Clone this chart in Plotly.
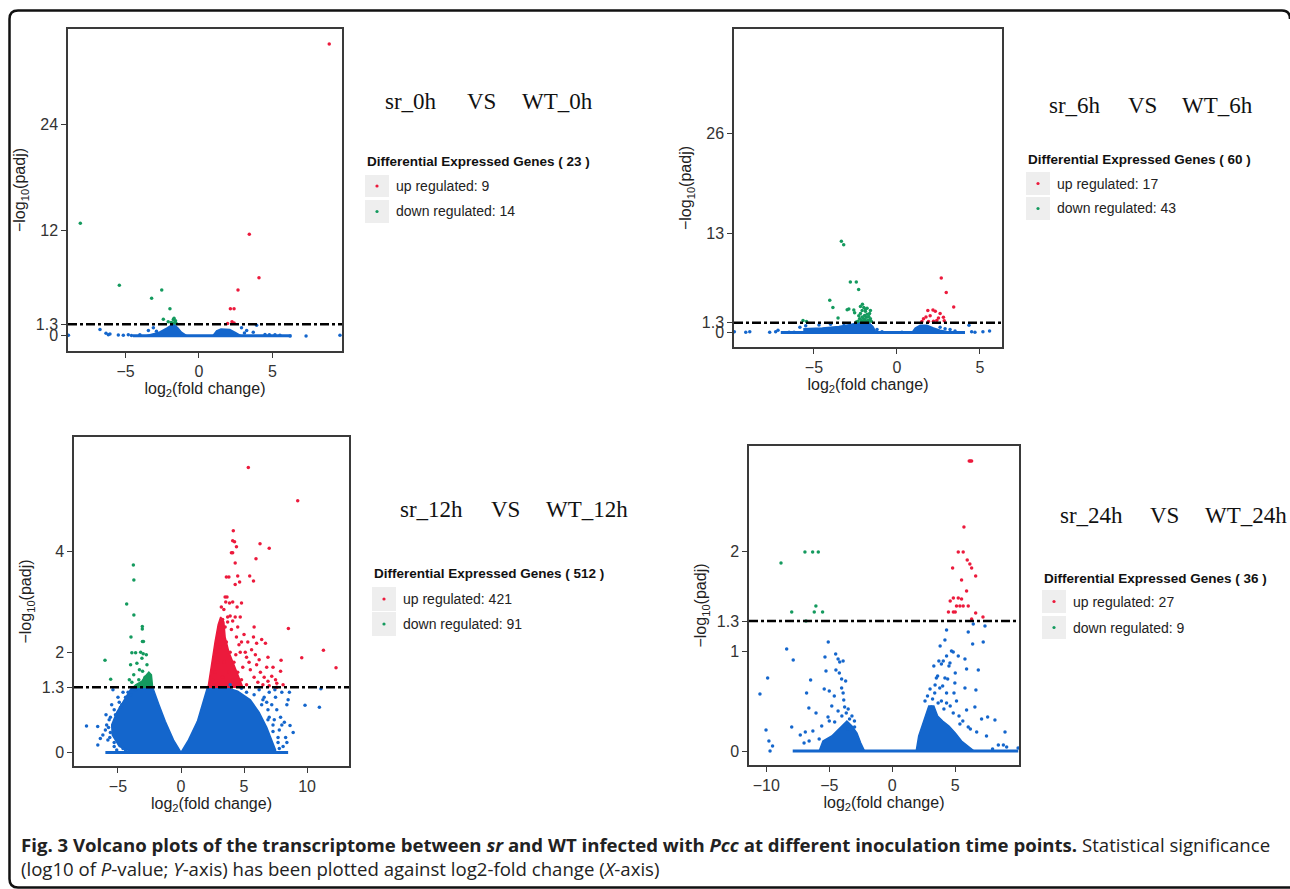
import plotly.graph_objects as go

W, H = 1290, 889
BLUE = "#1466CC"
RED = "#EC1A3C"
GREEN = "#149A5E"
FONT = "Liberation Sans"

# ---------------- data: sr_0h VS WT_0h ----------------
h0_up_x = [8.88, 3.43, 4.09, 2.66, 2.14, 2.39, 2.39, 1.95, 2.25]
h0_up_y = [33.2, 11.55, 6.6, 5.2, 3.08, 3.08, 1.45, 1.38, 1.6]
h0_down_x = [-8.09, -5.43, -2.54, -3.23, -1.98, -2.43, -2.1, -1.9, -1.75, -1.6, -1.8, -1.65, -1.55, -1.7]
h0_down_y = [12.8, 5.74, 5.2, 4.26, 3.08, 1.86, 1.6, 1.5, 1.85, 1.7, 1.45, 1.5, 1.4, 2.0]
h0_ns_x = [-8.9, -6.75, -6.34, -6.18, -6.07, -5.5, -5.16, -4.82, -4.6, -3.45, -3.11, -2.9, 3.25, 3.7,
           3.93, 5.18, 5.52, 6.21, 7.3, 9.61, -4.03, 2.9, 3.1, 4.5, 4.8]
h0_ns_y = [0.05, 0.72, 0.27, 0.1, 0.2, 0.08, 0.05, 0.1, 0.02, 0.6, 0.9, 0.5, 0.6, 0.4,
           1.2, 0.1, 0.05, -0.03, -0.03, 0.05, 0.1, 0.9, 0.3, 0.15, 0.1]
h0_dense_left_x = [-3.6, -2.7, -2.2, -1.75, -1.45, -1.2, -0.85, -3.6]
h0_dense_left_y = [0, 0.4, 0.85, 1.35, 0.9, 0.4, 0, 0]
h0_dense_right_x = [0.95, 1.2, 1.5, 2.1, 2.5, 2.85, 0.95]
h0_dense_right_y = [0, 0.55, 0.75, 0.7, 0.35, 0, 0]
h0_base_x = [-4.5, 6.3]

# ---------------- data: sr_6h VS WT_6h ----------------
h6_up_x = [2.67, 2.97, 3.42, 1.86, 2.17, 2.31, 2.6, 2.8, 2.5, 2.0, 1.6, 1.75, 1.5, 2.4, 2.2, 2.85, 1.9]
h6_up_y = [7.15, 5.23, 3.35, 2.9, 2.95, 2.8, 2.5, 2.0, 1.9, 2.2, 1.8, 2.05, 1.45, 1.6, 1.5, 1.55, 1.45]
h6_down_x = [-3.35, -3.21, -2.81, -2.45, -2.31, -4.05, -3.86, -2.08, -3.0, -2.9, -2.6, -2.55, -3.55, -5.66,
             -5.45, -2.3, -2.2, -2.1, -2.0, -1.9, -1.8, -1.7, -1.6, -1.55, -2.25, -2.15, -2.05, -1.95,
             -1.85, -1.75, -1.65, -1.95, -2.1, -1.85, -2.35, -2.05, -1.7, -2.0, -1.9, -1.8, -2.2, -1.6, -2.45]
h6_down_y = [11.95, 11.5, 6.62, 6.62, 5.63, 4.23, 3.27, 3.7, 3.0, 3.1, 2.95, 2.6, 1.91, 1.6,
             1.45, 2.2, 2.5, 2.9, 3.3, 2.8, 2.4, 2.1, 1.8, 1.5, 1.8, 1.6, 1.9, 1.7,
             1.5, 1.65, 2.5, 2.25, 2.05, 2.0, 1.5, 1.45, 1.45, 1.55, 3.1, 3.2, 3.4, 2.9, 1.4]
h6_ns_x = [-9.8, -9.11, -8.87, -7.67, -7.31, -7.17, -6.5, -5.85, -5.5, -4.7, -4.0, -3.2, 4.34, 4.5,
           4.7, 5.18, 5.58, 3.2, 3.5, 2.6, 2.9, -1.2, -0.9, 0.3, -6.2]
h6_ns_y = [0.1, 0.05, 0.1, 0.05, 0.1, 0.3, 0.05, 0.7, 0.9, 1.0, 1.1, 1.2, 0.96, 0.1,
           0.05, 0.1, 0.2, 0.4, 0.2, 0.7, 0.5, 0.4, 0.1, 0.05, 0.05]
h6_dense_left_x = [-5.6, -5.6, -4.5, -3.5, -2.8, -2.3, -1.7, -1.45, -1.3, -1.15, -5.6]
h6_dense_left_y = [0, 0.5, 0.6, 0.8, 1.05, 1.3, 1.3, 0.8, 0.2, 0, 0]
h6_dense_right_x = [0.9, 1.1, 1.4, 1.8, 2.2, 2.6, 3.0, 3.5, 0.9]
h6_dense_right_y = [0, 0.6, 0.95, 0.95, 0.6, 0.3, 0.15, 0, 0]
h6_base_x = [-7.0, 4.1]

# ---------------- data: sr_12h VS WT_12h ----------------
h12_up_x = [5.34, 9.26, 4.15, 4.1, 4.25, 4.4, 6.27, 7.0, 4.0, 4.1, 5.95, 4.3, 3.6, 3.8, 4.5, 5.45, 5.75,
            4.3, 4.65, 3.65, 3.85, 4.45, 4.1, 4.8, 8.52, 11.3, 9.58, 12.3, 5.8, 5.75, 6.0, 6.7, 6.4,
            7.94, 7.9, 7.5, 7.2, 7.6, 6.9, 6.6, 6.3, 6.0, 5.8, 5.5, 5.2, 5.6, 6.2, 4.8, 5.0, 4.5, 4.3,
            4.1, 4.4, 3.9, 3.7, 6.9, 7.3, 6.5, 7.0, 8.1, 4.9, 5.1, 4.7, 3.4, 3.2, 3.5,
            2.5, 2.7, 2.9, 3.1, 3.3, 3.5, 3.7, 3.0, 2.8, 3.6, 3.9, 4.2, 4.5, 4.8, 5.2, 3.4, 3.8, 4.1,
            3.3, 2.6, 4.6, 4.0, 3.55, 3.3, 4.7, 5.3, 5.9, 6.1, 6.8, 7.6, 5.4, 4.35]
h12_up_y = [5.68, 5.02, 4.42, 4.22, 4.2, 4.1, 4.16, 4.07, 3.98, 3.98, 3.86, 3.78, 3.5, 3.5, 3.52, 3.52, 3.42,
            3.35, 3.4, 3.1, 2.98, 2.9, 3.0, 2.98, 2.47, 2.04, 1.89, 1.69, 2.5, 2.3, 2.18, 2.18, 2.25,
            1.84, 1.62, 1.45, 1.52, 1.38, 1.42, 1.5, 1.6, 1.75, 1.5, 1.65, 1.9, 2.05, 1.85, 2.2, 2.35, 2.5, 2.7,
            2.62, 2.3, 2.72, 2.6, 1.9, 1.7, 1.35, 1.33, 1.35, 1.7, 2.0, 2.0, 2.85, 2.9, 3.1,
            1.45, 1.6, 1.8, 2.1, 2.3, 2.5, 2.7, 2.4, 2.0, 2.2, 2.0, 1.8, 1.6, 1.45, 1.35, 1.8, 1.6, 1.45,
            1.5, 1.35, 2.15, 2.45, 3.0, 2.65, 2.7, 2.2, 1.95, 1.4, 1.7, 1.3, 1.8, 1.95]
h12_up_dense_x = [2.15, 2.4, 2.7, 2.95, 3.15, 3.4, 3.5, 3.8, 4.2, 4.6, 4.9, 2.15]
h12_up_dense_y = [1.3, 1.75, 2.2, 2.55, 2.7, 2.6, 2.3, 2.0, 1.75, 1.5, 1.3, 1.3]
h12_down_x = [-3.78, -3.74, -4.31, -3.74, -3.07, -3.07, -3.97, -3.06, -2.98, -6.03, -5.58, -3.9, -3.6, -3.0,
              -3.1, -4.0, -3.5, -3.75, -2.7, -3.05, -3.35, -2.85, -3.9, -4.1, -3.3, -2.75, -3.2]
h12_down_y = [3.74, 3.44, 2.96, 2.74, 2.51, 2.46, 2.3, 2.21, 2.21, 1.84, 1.46, 1.99, 1.99, 1.97,
              1.88, 1.75, 1.78, 1.55, 1.75, 1.62, 1.45, 1.5, 1.4, 1.45, 1.65, 1.95, 2.0]
h12_down_dense_x = [-2.25, -2.35, -2.55, -2.9, -3.1, -3.6, -3.8, -2.25]
h12_down_dense_y = [1.3, 1.55, 1.6, 1.5, 1.42, 1.35, 1.3, 1.3]
h12_ns_x = [-7.5, -6.61, -6.4, -5.6, -5.9, -5.7, -5.5, -5.0, -4.8, -5.2, -6.0, -5.8, -5.3, -6.2, -5.95,
            -4.6, -5.4, -6.6, -5.1,
            -4.2, -4.4, -4.7, -4.9, -5.3, -5.6, -5.75, -5.65, -5.3, -4.6, -4.4, -3.6, -4.0,
            8.65, 9.84, 10.98, 11.1, 8.4, 8.0, 7.9, 7.5, 7.2, 8.2, 7.8, 7.0, 8.5, 6.9, 7.6, 8.3, 7.7,
            8.1, 6.6, 6.2, 7.3, 6.8, 8.9, 7.45, 8.6,
            3.9, 4.8, 5.8, 6.4, 7.0, 7.3, 7.7, 7.8, 6.5, 5.2, 6.9, 7.4, 8.0, 8.4]
h12_ns_y = [0.53, 0.52, 0.28, 0.4, 0.55, 0.65, 0.95, 1.1, 0.9, 0.75, 0.45, 0.25, 0.2, 0.35, 0.75,
            1.2, 1.25, 0.15, 0.05,
            1.2, 1.1, 0.95, 1.0, 0.85, 0.7, 0.5, 0.3, 0.12, 0.08, 0.05, 1.25, 1.15,
            0.54, 0.94, 0.9, 1.27, 0.95, 1.2, 0.7, 1.1, 0.95, 0.6, 0.45, 1.2, 1.05, 0.65, 0.85, 0.3, 0.2,
            0.12, 1.1, 1.25, 0.55, 1.0, 0.4, 1.25, 1.2,
            1.35, 1.28, 1.15, 0.95, 0.7, 0.42, 0.3, 0.08, 1.05, 1.2, 0.85, 0.65, 0.55, 0.2]
h12_dense_left_x = [-2.25, -3.9, -4.5, -5.1, -5.5, -5.45, -4.9, -4.0, -2.5, 0, -0.6, -1.25, -1.75, -2.25]
h12_dense_left_y = [1.3, 1.3, 1.05, 0.8, 0.55, 0.35, 0.12, 0.02, 0, 0, 0.25, 0.62, 0.95, 1.3]
h12_dense_right_x = [0, 0.6, 1.3, 1.7, 2.1, 3.5, 4.5, 5.5, 6.2, 6.8, 7.2, 7.5, 7.5, 0]
h12_dense_right_y = [0, 0.25, 0.62, 0.95, 1.3, 1.3, 1.22, 1.05, 0.8, 0.5, 0.25, 0.05, 0, 0]
h12_base_x = [-6.0, 8.5]

# ---------------- data: sr_24h VS WT_24h ----------------
h24_up_x = [6.11, 6.2, 6.3, 5.69, 5.24, 5.63, 4.79, 5.95, 6.16, 6.3, 5.5, 6.62, 4.85, 5.5, 5.1, 5.37, 5.63,
            6.03, 4.46, 4.85, 5.0, 6.62, 7.2, 6.3, 5.24, 5.9, 4.6]
h24_up_y = [2.9, 2.9, 2.9, 2.24, 1.99, 1.99, 1.83, 1.91, 1.87, 1.83, 1.71, 1.75, 1.53, 1.52, 1.45, 1.45, 1.45,
            1.45, 1.39, 1.39, 1.39, 1.38, 1.34, 1.32, 1.53, 1.6, 1.5]
h24_down_x = [-8.83, -6.93, -6.32, -5.87, -6.06, -7.98, -6.19, -5.53, -6.85]
h24_down_y = [1.88, 1.99, 1.99, 1.99, 1.45, 1.39, 1.39, 1.39, 1.30]
h24_ns_x = [-10.5, -9.89, -8.38, -7.86, -10.02, -9.79, -9.7, -9.5, -7.98,
            -5.08, -5.34, -4.49, -4.3, -4.17, -5.26, -4.47, -4.02, -5.4, -6.48, -4.02, -3.9, -3.85, -3.78,
            -3.65, -6.62, -6.8, -6.05, -7.3, -6.9, -5.1, -4.57, -3.39, -3.52, -2.99,
            -3.2, -3.5, -3.0, -4.0, -4.3, -4.8, -5.0, -5.6, -6.3, -7.0, -6.6, -5.8, -4.6, -5.0, -3.9, -3.7, -4.2,
            4.31, 4.18, 4.84, 5.24, 4.31, 4.05, 4.58, 3.9, 5.77, 5.9, 6.83, 7.22, 7.36, 6.43, 6.03, 6.38,
            3.5, 4.18, 3.77, 4.31, 3.37, 4.97, 5.77, 6.64, 6.56, 3.64, 4.31, 5.1, 3.1, 4.84, 5.9, 7.09,
            7.57, 8.15, 8.95, 8.42, 8.82, 9.08, 7.96, 7.48, 6.7, 6.03, 5.37, 9.99,
            2.6, 2.8, 3.0, 3.2, 3.4, 3.6, 3.3, 3.7, 4.0, 4.4, 2.9, 4.6, 4.1, 3.9, 4.9, 5.3, 5.6, 6.2,
            5.0, 4.7, 3.8, 4.5]
h24_ns_y = [0.57, 0.73, 1.02, 0.91, 0.21, 0.10, 0.0, 0.05, 0.24,
            1.09, 0.94, 0.97, 0.92, 0.89, 0.8, 0.81, 0.72, 0.62, 0.71, 0.63, 0.58, 0.51, 0.44,
            0.38, 0.43, 0.58, 0.38, 0.16, 0.19, 0.34, 0.29, 0.32, 0.22, 0.24,
            0.35, 0.42, 0.3, 0.35, 0.4, 0.45, 0.3, 0.25, 0.2, 0.08, 0.1, 0.12, 0.55, 0.6, 0.9, 0.7, 0.78,
            1.21, 1.11, 0.99, 0.95, 0.95, 0.9, 0.88, 0.87, 0.92, 0.82, 0.81, 1.09, 1.25, 1.27, 1.19, 1.07,
            0.73, 0.73, 0.63, 0.58, 0.58, 0.68, 0.63, 0.61, 0.44, 0.48, 0.48, 0.5, 0.44, 0.38, 0.41, 0.32,
            0.34, 0.31, 0.19, 0.06, 0.06, 0.04, 0.02, 0.15, 0.19, 0.24, 0.27, 0.03,
            0.5, 0.55, 0.62, 0.52, 0.66, 0.75, 0.85, 0.9, 0.65, 0.72, 0.38, 0.45, 0.42, 0.5, 0.58, 0.35, 0.3, 0.22,
            0.78, 1.0, 1.05, 0.85]
h24_dense_left_x = [-5.8, -5.5, -4.8, -4.2, -3.6, -3.2, -2.8, -2.5, -2.2, -5.8]
h24_dense_left_y = [0, 0.1, 0.15, 0.22, 0.3, 0.25, 0.18, 0.08, 0, 0]
h24_dense_right_x = [1.9, 2.1, 2.5, 2.9, 3.3, 3.6, 4.0, 4.5, 5.0, 5.5, 6.0, 6.5, 1.9]
h24_dense_right_y = [0, 0.15, 0.3, 0.45, 0.45, 0.35, 0.3, 0.25, 0.18, 0.1, 0.05, 0, 0]
h24_base_x = [-7.9, 10.0]

THRESH = 1.3

panels = [
    dict(name="0h", up=9, down=14, total=23,
         up_x=h0_up_x, up_y=h0_up_y, down_x=h0_down_x, down_y=h0_down_y,
         ns_x=h0_ns_x, ns_y=h0_ns_y,
         dense=[(h0_dense_left_x, h0_dense_left_y, BLUE), (h0_dense_right_x, h0_dense_right_y, BLUE)],
         base=h0_base_x,
         xdom=(68, 342), ydom=(29, 351), xr=(-8.93, 9.75), yr=(-1.74, 34.9),
         xt=[-5, 0, 5], yt=[0, 1.3, 12, 24],
         title_y=101, words=[(383, "sr_0h"), (465, "VS"), (520, "WT_0h")],
         leg_x=365, leg_title_y=161, box_y=[(175, 197), (200, 223)]),
    dict(name="6h", up=17, down=43, total=60,
         up_x=h6_up_x, up_y=h6_up_y, down_x=h6_down_x, down_y=h6_down_y,
         ns_x=h6_ns_x, ns_y=h6_ns_y,
         dense=[(h6_dense_left_x, h6_dense_left_y, BLUE), (h6_dense_right_x, h6_dense_right_y, BLUE)],
         base=h6_base_x,
         xdom=(734, 1002), ydom=(29, 347), xr=(-9.82, 6.33), yr=(-1.88, 39.7),
         xt=[-5, 0, 5], yt=[0, 1.3, 13, 26],
         title_y=105, words=[(1047, "sr_6h"), (1126, "VS"), (1180, "WT_6h")],
         leg_x=1026, leg_title_y=160, box_y=[(172, 195), (197, 220)]),
    dict(name="12h", up=421, down=91, total=512,
         up_x=h12_up_x, up_y=h12_up_y, down_x=h12_down_x, down_y=h12_down_y,
         ns_x=h12_ns_x, ns_y=h12_ns_y,
         dense=[(h12_dense_left_x, h12_dense_left_y, BLUE), (h12_dense_right_x, h12_dense_right_y, BLUE),
                (h12_up_dense_x, h12_up_dense_y, RED), (h12_down_dense_x, h12_down_dense_y, GREEN)],
         base=h12_base_x,
         xdom=(74, 349), ydom=(437, 766), xr=(-8.49, 13.33), yr=(-0.27, 6.29),
         xt=[-5, 0, 5, 10], yt=[0, 1.3, 2, 4],
         title_y=509, words=[(398, "sr_12h"), (489, "VS"), (544, "WT_12h")],
         leg_x=372, leg_title_y=573, box_y=[(587, 611), (612, 636)]),
    dict(name="24h", up=27, down=9, total=36,
         up_x=h24_up_x, up_y=h24_up_y, down_x=h24_down_x, down_y=h24_down_y,
         ns_x=h24_ns_x, ns_y=h24_ns_y,
         dense=[(h24_dense_left_x, h24_dense_left_y, BLUE), (h24_dense_right_x, h24_dense_right_y, BLUE)],
         base=h24_base_x,
         xdom=(749, 1019), ydom=(446, 765), xr=(-11.37, 10.06), yr=(-0.14, 3.05),
         xt=[-10, -5, 0, 5], yt=[0, 1, 1.3, 2],
         title_y=515, words=[(1058, "sr_24h"), (1148, "VS"), (1203, "WT_24h")],
         leg_x=1042, leg_title_y=578, box_y=[(590, 613), (616, 639)]),
]


def fx(px):
    return px / W


def fy(py):
    return 1 - py / H


fig = go.Figure()
shapes = []
annotations = []
layout = {}

for i, p in enumerate(panels):
    n = "" if i == 0 else str(i + 1)
    xa, ya = "x" + n, "y" + n
    for dx, dy, col in p["dense"]:
        fig.add_trace(go.Scatter(x=dx, y=dy, mode="lines", fill="toself", fillcolor=col,
                                 line=dict(color=col, width=1.5), hoverinfo="skip",
                                 showlegend=False, xaxis=xa, yaxis=ya))
    fig.add_trace(go.Scatter(x=p["base"], y=[0, 0], mode="lines", line=dict(color=BLUE, width=3),
                             showlegend=False, xaxis=xa, yaxis=ya))
    fig.add_trace(go.Scatter(x=p["ns_x"], y=p["ns_y"], mode="markers",
                             marker=dict(color=BLUE, size=3.5), showlegend=False, xaxis=xa, yaxis=ya))
    fig.add_trace(go.Scatter(x=p["down_x"], y=p["down_y"], mode="markers",
                             marker=dict(color=GREEN, size=3.5), showlegend=False, xaxis=xa, yaxis=ya))
    fig.add_trace(go.Scatter(x=p["up_x"], y=p["up_y"], mode="markers",
                             marker=dict(color=RED, size=3.5), showlegend=False, xaxis=xa, yaxis=ya))

    axcommon = dict(showline=True, mirror=True, linecolor="#3a3a3a", linewidth=1.5,
                    ticks="outside", ticklen=5, tickcolor="#3a3a3a", tickwidth=1,
                    showgrid=False, zeroline=False, fixedrange=True,
                    tickfont=dict(family=FONT, size=16, color="#333"))
    layout["xaxis" + n] = dict(axcommon, domain=[fx(p["xdom"][0]), fx(p["xdom"][1])],
                               range=list(p["xr"]), tickvals=p["xt"], anchor=ya,
                               title=dict(text="log<sub>2</sub>(fold change)", standoff=2,
                                          font=dict(family=FONT, size=16, color="#222")))
    layout["yaxis" + n] = dict(axcommon, domain=[fy(p["ydom"][1]), fy(p["ydom"][0])],
                               range=list(p["yr"]), tickvals=p["yt"],
                               ticktext=[str(v) for v in p["yt"]], anchor=xa,
                               title=dict(text="\u2212log<sub>10</sub>(padj)", standoff=6,
                                          font=dict(family=FONT, size=16, color="#222")))
    shapes.append(dict(type="line", xref=xa + " domain", yref=ya, x0=0, x1=1, y0=THRESH, y1=THRESH,
                       line=dict(color="black", width=2.5, dash="dashdot")))
    for wx, word in p["words"]:
        annotations.append(dict(text=word, x=fx(wx), y=fy(p["title_y"]), xref="paper", yref="paper",
                                xanchor="left", yanchor="middle", showarrow=False,
                                font=dict(family="Liberation Serif", size=23, color="#111")))
    lx = p["leg_x"]
    annotations.append(dict(text="<b>Differential Expressed Genes ( %d )</b>" % p["total"],
                            x=fx(lx), y=fy(p["leg_title_y"]), xref="paper", yref="paper",
                            xanchor="left", yanchor="middle", showarrow=False,
                            font=dict(family=FONT, size=13.5, color="#111")))
    labels = ["up regulated: %d" % p["up"], "down regulated: %d" % p["down"]]
    cols = [RED, GREEN]
    for (y0, y1), lab, col in zip(p["box_y"], labels, cols):
        shapes.append(dict(type="rect", xref="paper", yref="paper", x0=fx(lx), x1=fx(lx + 24),
                           y0=fy(y1), y1=fy(y0), fillcolor="#EEEEEE", line=dict(width=0), layer="below"))
        cy = (y0 + y1) / 2
        cx = lx + 12
        shapes.append(dict(type="circle", xref="paper", yref="paper", x0=fx(cx - 1.6), x1=fx(cx + 1.6),
                           y0=fy(cy + 1.6), y1=fy(cy - 1.6), fillcolor=col, line=dict(width=0)))
        annotations.append(dict(text=lab, x=fx(lx + 29), y=fy(cy), xref="paper", yref="paper",
                                xanchor="left", yanchor="middle", showarrow=False,
                                font=dict(family=FONT, size=14, color="#222")))

# caption
annotations.append(dict(
    text="<b>Fig. 3 Volcano plots of the transcriptome between <i>sr</i> and WT infected with <i>Pcc</i> "
         "at different inoculation time points.</b> Statistical significance",
    x=fx(19), y=fy(844), xref="paper", yref="paper", xanchor="left", yanchor="middle",
    showarrow=False, font=dict(family="Open Sans", size=18.6, color="#222")))
annotations.append(dict(
    text="(log10 of <i>P</i>-value; <i>Y</i>-axis) has been plotted against log2-fold change (<i>X</i>-axis)",
    x=fx(19), y=fy(868), xref="paper", yref="paper", xanchor="left", yanchor="middle",
    showarrow=False, font=dict(family="Open Sans", size=18.6, color="#222")))

# rounded outer frame
path = ("M {a},{b} L {c},{b} Q {d},{b} {d},{e} L {d},{f} Q {d},{g} {c},{g} L {h},{g} Q {i},{g} {i},{j}"
        .format(a=fx(1300), b=fy(887.5), c=fx(18), d=fx(9.5), e=fy(879), f=fy(19), g=fy(10.5),
                h=fx(1282), i=fx(1290), j=fy(19)))
shapes.append(dict(type="path", xref="paper", yref="paper", path=path,
                   line=dict(color="#111", width=2.5)))

fig.update_layout(width=W, height=H, margin=dict(l=0, r=0, t=0, b=0),
                  paper_bgcolor="white", plot_bgcolor="white", showlegend=False,
                  shapes=shapes, annotations=annotations, **layout)

fig.write_html("out.html", config={"displayModeBar": False})
